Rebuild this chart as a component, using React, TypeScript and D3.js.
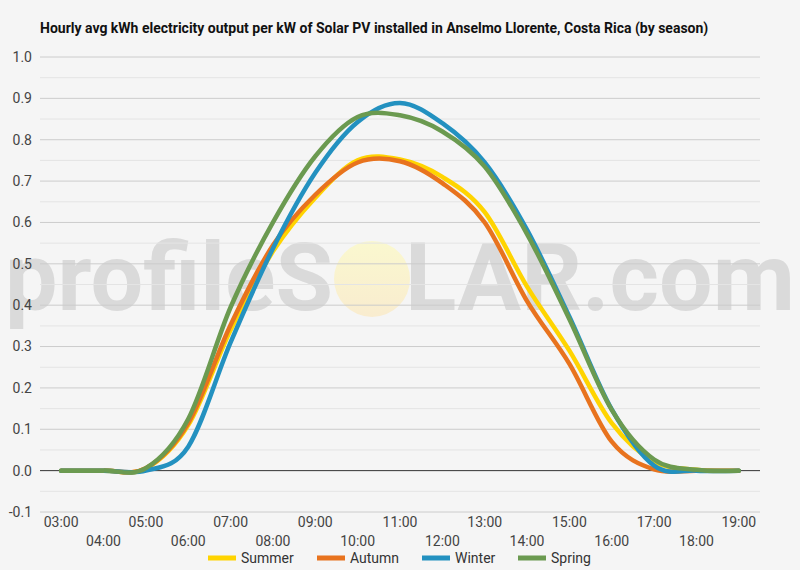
import React from "react";
import * as d3 from "d3";

const width = 800;
const height = 570;

const hours = [
  "03:00", "04:00", "05:00", "06:00", "07:00", "08:00", "09:00", "10:00", "11:00",
  "12:00", "13:00", "14:00", "15:00", "16:00", "17:00", "18:00", "19:00",
];

const summer = [0, 0, 0.005, 0.11, 0.34, 0.53, 0.66, 0.75, 0.752, 0.71, 0.625, 0.445, 0.29, 0.115, 0.022, 0.002, 0];
const autumn = [0, 0, 0.006, 0.115, 0.352, 0.545, 0.667, 0.745, 0.748, 0.695, 0.6, 0.41, 0.258, 0.07, 0.003, 0, 0];
const winter = [0, 0, 0, 0.058, 0.31, 0.537, 0.72, 0.843, 0.889, 0.84, 0.745, 0.582, 0.372, 0.148, 0.012, 0, 0];
const spring = [0, 0, 0.006, 0.125, 0.395, 0.6, 0.76, 0.855, 0.859, 0.82, 0.735, 0.572, 0.366, 0.147, 0.027, 0.002, 0];

const seasons = ["Summer", "Autumn", "Winter", "Spring"];
const seriesValues = [summer, autumn, winter, spring];
const colors = ["#ffd400", "#e8731e", "#2391c0", "#6b9a50"];

const yTicks = [-0.1, 0, 0.1, 0.2, 0.3, 0.4, 0.5, 0.6, 0.7, 0.8, 0.9, 1.0];

const title =
  "Hourly avg kWh electricity output per kW of Solar PV installed in Anselmo Llorente, Costa Rica (by season)";

const margin = { left: 40, right: 40, top: 57, bottom: 58 };

export default function App() {
  const x = d3
    .scaleBand<string>()
    .domain(hours)
    .range([margin.left, width - margin.right]);
  const xc = (h: string) => (x(h) ?? 0) + x.bandwidth() / 2;

  const y = d3
    .scaleLinear()
    .domain([-0.1, 1.0])
    .range([height - margin.bottom, margin.top]);

  const minorTicks = d3.range(-0.05, 1.0, 0.1);

  const line = d3
    .line<number>()
    .x((_, i) => xc(hours[i]))
    .y((d) => y(d))
    .curve(d3.curveCardinal.tension(0));

  const font = "Roboto, 'Liberation Sans', sans-serif";

  const legendX = [208, 317, 422, 518];

  return (
    <svg
      width={width}
      height={height}
      style={{ position: "absolute", left: 0, top: 0, background: "#f5f5f5" }}
      fontFamily={font}
    >
      <defs>
        <linearGradient id="sun" x1="0" y1="0" x2="0" y2="1">
          <stop offset="0" stopColor="#faf8cf" />
          <stop offset="1" stopColor="#f9eccf" />
        </linearGradient>
      </defs>
      <rect width={width} height={height} fill="#f5f5f5" />

      {/* watermark */}
      <g fill="#dadada" fontFamily={font} fontWeight="bold" fontSize={94}>
        <text x={5} y={310} textLength={328} lengthAdjust="spacingAndGlyphs">
          profileS
        </text>
        <circle cx={372} cy={279} r={38} fill="url(#sun)" />
        <text x={405} y={310} textLength={390} lengthAdjust="spacingAndGlyphs">
          LAR.com
        </text>
      </g>

      <text x={40} y={33} fontSize={14} fontWeight="bold" fill="#111">
        {title}
      </text>

      {/* grid */}
      {minorTicks.map((t) => (
        <line
          key={"m" + t}
          x1={margin.left}
          x2={width - margin.right}
          y1={y(t)}
          y2={y(t)}
          stroke="#e4e4e4"
          strokeWidth={1}
        />
      ))}
      {yTicks.map((t) => (
        <g key={t}>
          <line
            x1={margin.left}
            x2={width - margin.right}
            y1={y(t)}
            y2={y(t)}
            stroke={t === 0 ? "#333" : "#cccccc"}
            strokeWidth={1}
          />
          <text
            x={32}
            y={y(t)}
            dy="0.35em"
            textAnchor="end"
            fontSize={14}
            fill="#444"
          >
            {t.toFixed(1)}
          </text>
        </g>
      ))}

      {hours.map((h, i) => (
        <text
          key={h}
          x={xc(h)}
          y={i % 2 === 0 ? 527 : 546}
          textAnchor="middle"
          fontSize={14}
          fill="#444"
        >
          {h}
        </text>
      ))}

      {seriesValues.map((vals, i) => (
        <path
          key={seasons[i]}
          d={line(vals) ?? ""}
          fill="none"
          stroke={colors[i]}
          strokeWidth={4.5}
          strokeLinejoin="round"
          strokeLinecap="round"
        />
      ))}

      {seasons.map((s, i) => (
        <g key={s} transform={`translate(${legendX[i]}, 558)`}>
          <rect x={0} y={-2.5} width={28} height={5} fill={colors[i]} />
          <text x={33} y={0} dy="0.35em" fontSize={14} fill="#333">
            {s}
          </text>
        </g>
      ))}
    </svg>
  );
}
